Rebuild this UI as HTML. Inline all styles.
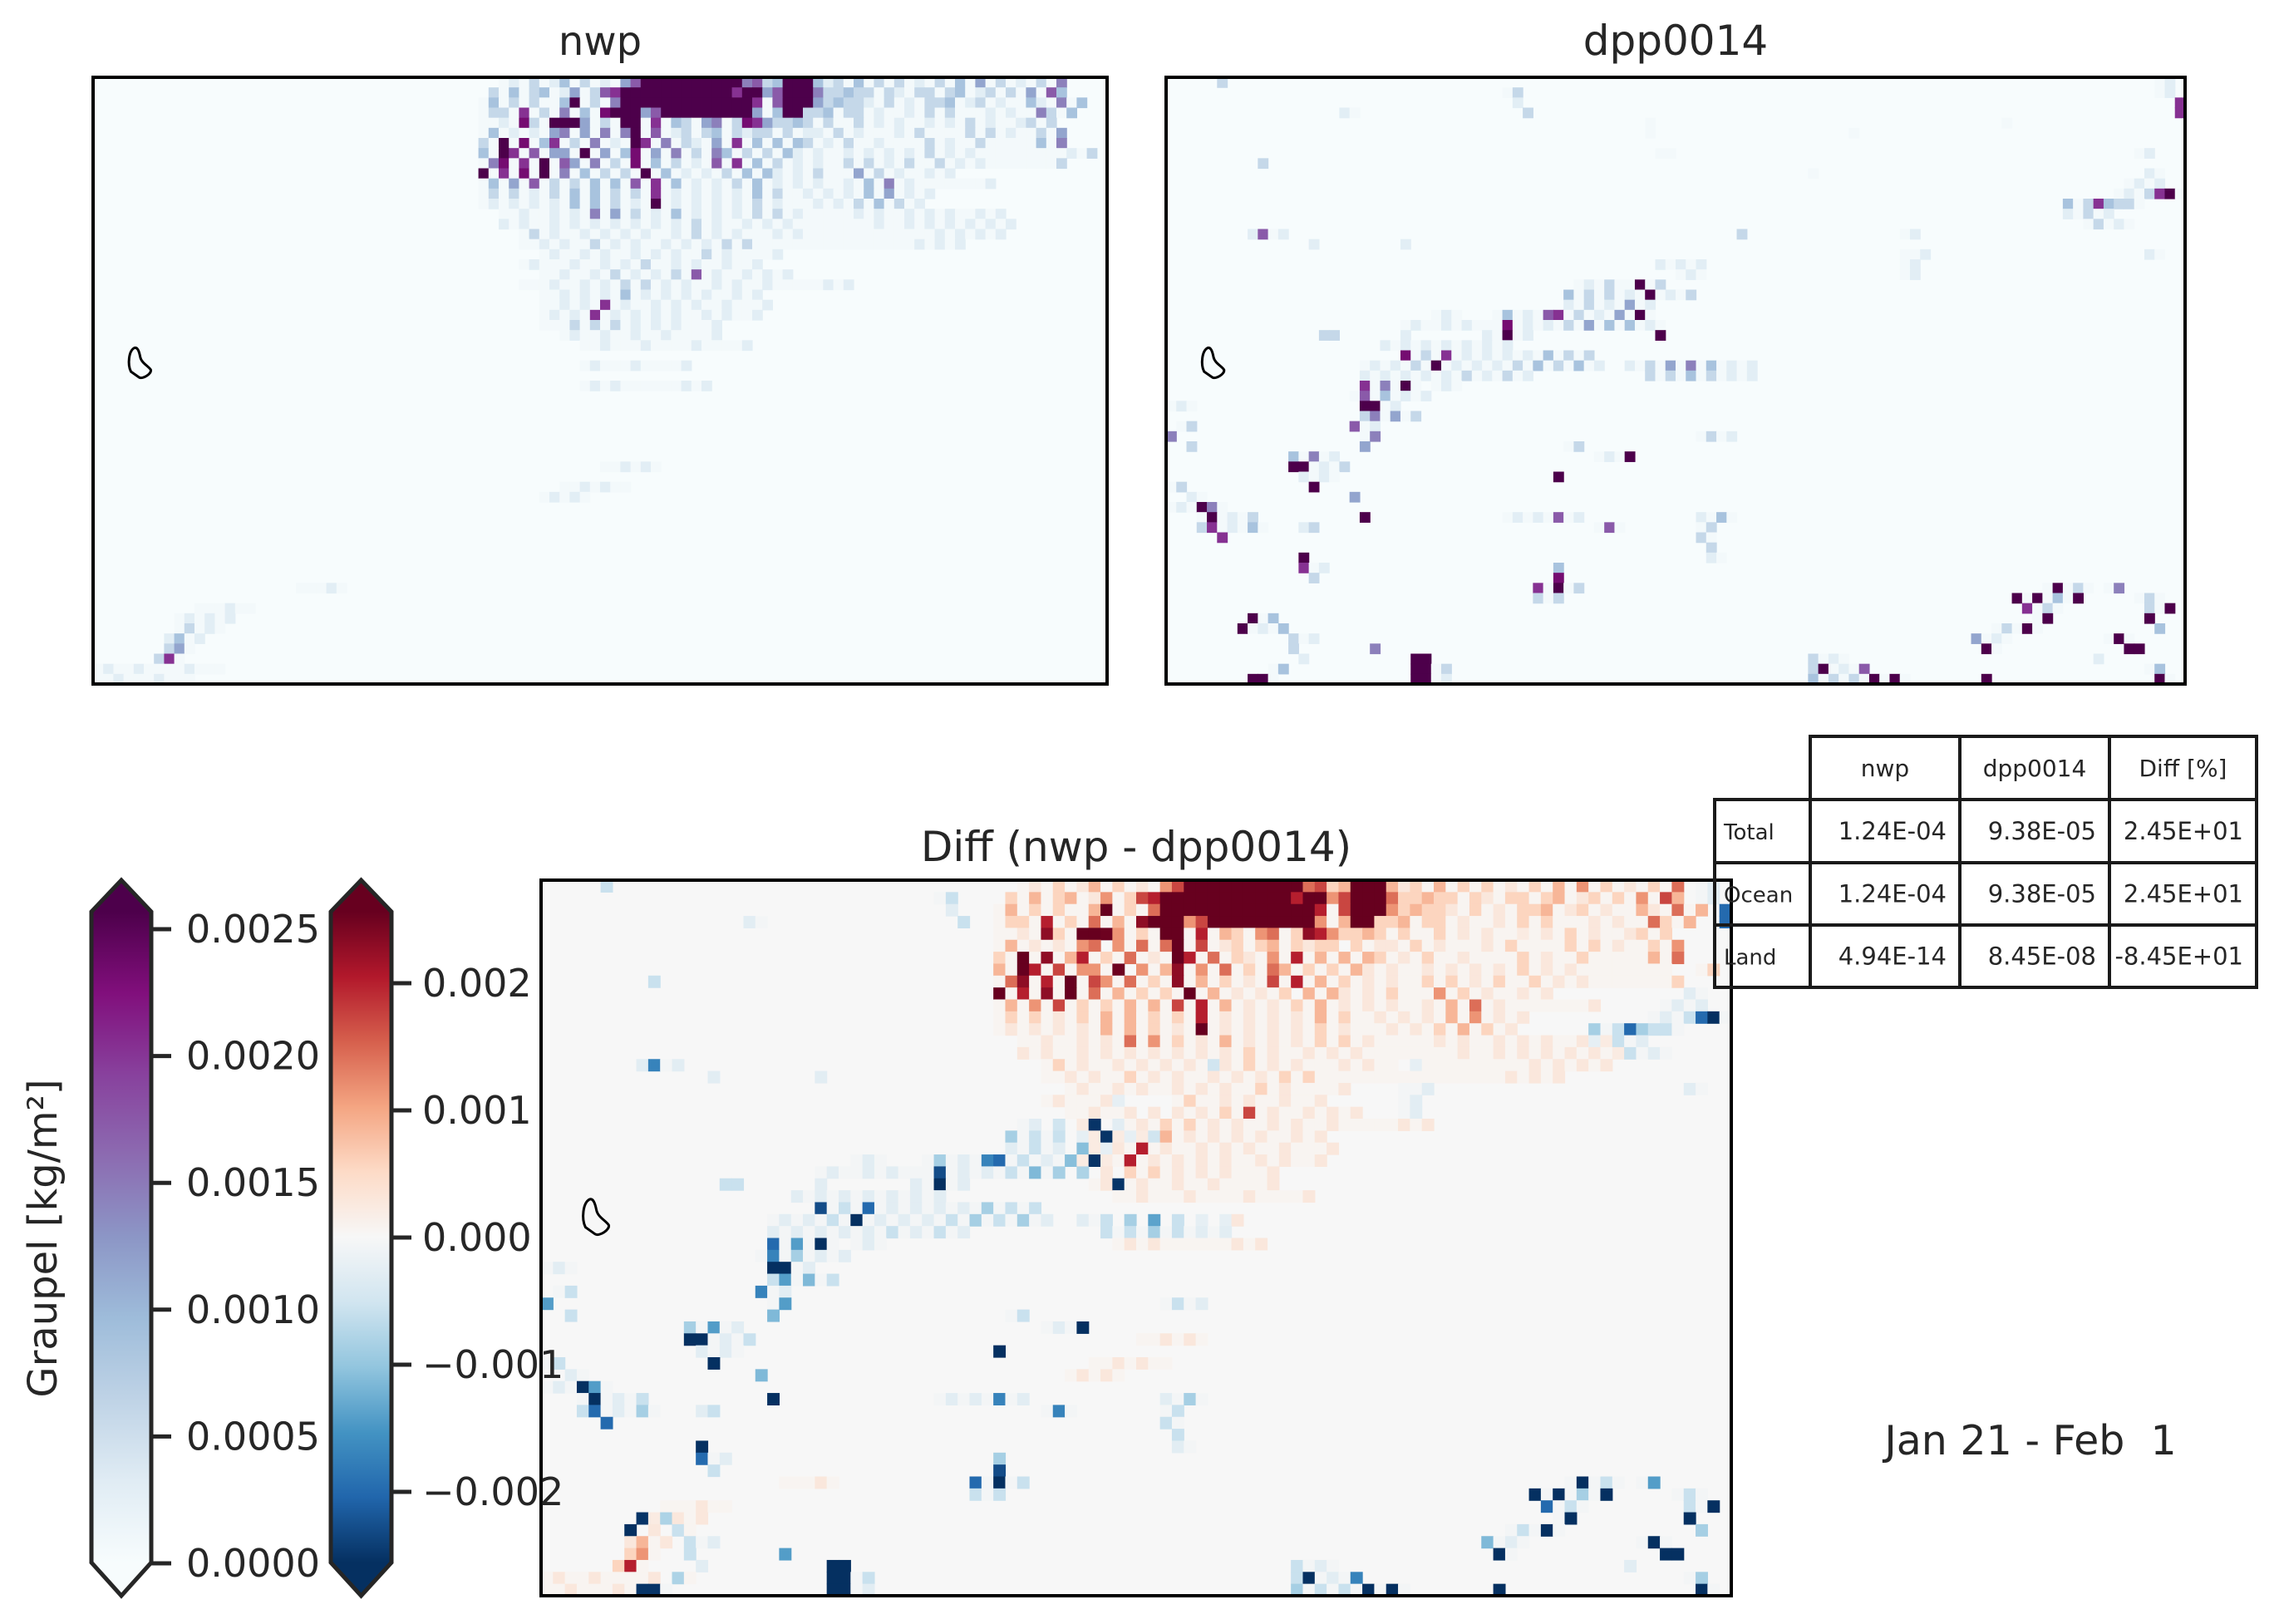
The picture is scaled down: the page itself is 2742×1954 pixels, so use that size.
<!DOCTYPE html>
<html><head><meta charset="utf-8"><style>
html,body{margin:0;padding:0;background:#fff;}
svg text{font-family:"DejaVu Sans","Liberation Sans",sans-serif;fill:#262626;}
</style></head><body>
<svg id="fig" xmlns="http://www.w3.org/2000/svg" width="2742" height="1949" viewBox="0 0 2742 1949">
<defs>
<linearGradient id="gBuPu" gradientUnits="userSpaceOnUse" x1="0" y1="1880" x2="0" y2="1097"></linearGradient>
<linearGradient id="gRdBu" gradientUnits="userSpaceOnUse" x1="0" y1="1880" x2="0" y2="1097"></linearGradient>
</defs>
<rect x="0" y="0" width="2742" height="1949" fill="#fff"/>
<g id="panels"></g>
<text x="722" y="66" font-size="48" text-anchor="middle">nwp</text>
<text x="2016" y="66" font-size="50" text-anchor="middle">dpp0014</text>
<text x="1367" y="1036" font-size="50" text-anchor="middle">Diff (nwp - dpp0014)</text>
<g id="cbars"></g>
<text x="0" y="0" font-size="48" text-anchor="middle" transform="translate(68,1490) rotate(-90)">Graupel [kg/m²]</text>
<g id="table"></g>
<text x="2443" y="1750" font-size="49" text-anchor="middle" style="white-space:pre">Jan 21 - Feb  1</text>
</svg>
<script>
// ---- data (grid cells: [row, startCol, levels]; '.'=0, 'a'=faint, digit d => d*0.00029) ----
const gridCols = 100;
const gridRows = 60;
const levelUnit = 0.00029;
const faintValue = 0.00006;
const nwpRows = [
[0,38,"..a1a2a13a2a1a4699999999995623999312a3a2a2a1a2a3a4a2a1a2a5"],
[1,38,".2a3a23a14a2679999999999979946999522322a21a22a23a12a2a4a63"],
[2,38,"a3a2a2aa39a2a599999999999997a6999423221a2a1a223a12a1aa31a5a3"],
[3,38,"a22a7a2a5a3a8999469999999994a399223a22a1aa1a2a2aaa1a1aa52a3"],
[4,38,"aa1a82a9994a2a99a7a32a45a28742232a2aa2a1a1aa1a1a2a1aa12a2"],
[5,38,"a3a1a1a45a4a5a59a6a12a23a2122a2a11a2a1aaa1a2aaaa2a2a1aa2a4"],
[6,38,"2a9a8a37a2a5a1a97a5a21a4a7a3a3a32a1a2aa1aaaa2a1aa2aaaaa3a5"],
[7,38,"3a97a6a44a9a4a38a4a5a2a53a2a2a31a1aa1a1a1a1a2a1a1aaaaaaaaa1a2"],
[8,38,"a58a7a9a64a5a2a8a3a2a1a6a7a3a2a1a1aa2a2a1a2aa2a1a1aaaaaaa2"],
[9,38,"9a7a8a9a5a3a2a2a9a3a1a1a2a3a31a1a2aaa4a2a1aa1a1"],
[10,38,"a3a4a6a2a2a3a3a6a7a3a1a1a2a3a1a1a1aa1a3a5a1aaaaaaa1"],
[11,38,"a2a2a1a2a3a3a2a2a7a1a1a1a1a3a2aa1a1a1a3a4a1a1"],
[12,38,"a1a1a1a1a3a3a2a1a9a1a1a1a1a2a1aaa1a1a2a3a2a1"],
[13,40,"aa1aa1a1a5a4a2a1a3a1a1a1a2a2a1aaaaa1a1aa1a1a1aa1a1"],
[14,40,"1a1aa1a1a1a1a1a1a1a2a1aa1a1a1aaaaaaaa1aa1a1a1a1a1a1"],
[15,42,"a2a1aa1a1a1a1aa1a2a1a1aaa1a1aaaaaaaaaaaaa1a1a1a1"],
[16,42,"aa1a1aa2a1a1aa1a1a1a2a2aaaaaaaaaaaaaaaa1a1a1"],
[17,44,"a1aa1a1aa1a1a1aa2a1aaaa1"],
[18,42,"a1aaa1aa1a1a2aa1a1aa1aa1"],
[19,44,"aa1aa1a2a1a1a2a6a1aa1a1a1"],
[20,42,"aaa1aa1a1a2a2a1a1aa1a1aa1aaaaa1a1"],
[21,44,"aa1a1a1a3a1a1a1a1aa1a1"],
[22,44,"aa1a1a7a1aa1a1a1aa1aaa1"],
[23,44,"a1a1a7a1a1a1a1aa1a1aa1"],
[24,44,"aaa2a2a2a1a1a1aaa1"],
[25,46,"a1aa1aa1aa1aaaa1"],
[26,48,"aa1aaa1aaaa1aaaa1"],
[28,48,"a1aaa1aaaa1"],
[30,48,"a1a1aaaaaa1a1"],
[38,50,"aa1a1a"],
[40,46,"aa1a1aa"],
[41,44,"a1a1a"],
[50,20,"aaa1a"],
[52,10,"aaa1aa"],
[53,8,"a1a1a1"],
[54,8,"a2a1a"],
[55,7,"13a1"],
[56,7,"24a"],
[57,6,"27a"],
[58,0,"a1aa1aaaa1aaa"],
[59,0,"aa1aaa1aaa"]
];
const dppRows = [
[0,5,"2"],[0,97,"a1"],[1,33,"a2"],[1,97,"a1"],[2,34,"1"],[2,99,"7"],
[3,17,"1a"],[3,35,"2"],[3,99,"7"],[4,47,"a"],[4,82,"a"],[5,47,"a"],[5,67,"a"],
[7,48,"aa"],[7,95,"a1"],[8,9,"2"],[9,63,"a"],[9,96,"1a"],[10,94,"a1a1"],
[11,93,"a1a279a"],[12,88,"3a27322a"],[13,88,"1a2a1"],[14,90,"a2a1a"],
[15,8,"16a1"],[15,56,"2"],[15,72,"a1"],[16,14,"1"],[16,23,"1"],
[17,72,"aa1"],[17,96,"1a"],[18,48,"1a1a1"],[18,72,"a1"],[19,50,"a1a"],[19,72,"a1"],
[20,40,"a1a2aa9a2"],[21,39,"3a2a2a1a9a1a2"],[22,39,"1a2a1a4a1"],
[23,26,"a1a"],[23,32,"a3a1a67a2a1a4a9a"],
[24,23,"a1aa1a1aaa8a1a1a2a4a3a3a1a"],
[25,15,"22"],[25,23,"1"],[25,31,"1a9a1"],[25,48,"9"],
[26,21,"1a1a1a1a1a1a1"],[27,23,"8a2a7a1a1a1a1a3a2a2"],
[28,19,"a1a1a2a9a1a1a1a2a3a2a3a1"],[28,45,"1a2a4a5a3a1a1"],
[29,19,"1a1a1a1a1a2a1a2a1"],[29,47,"2a2a3a2a1a1"],
[30,19,"7a5a9a"],[30,26,"a1a"],[31,18,"a6a3a1a1"],[32,0,"a1a"],[32,19,"99a1"],
[33,19,"25a4a2"],[34,1,"a2"],[34,18,"6a1"],[35,0,"5"],[35,19,"a5"],[35,52,"a2a1"],
[36,2,"2"],[36,19,"4"],[36,39,"a2"],[37,12,"3a5a1"],[37,42,"a1a9"],
[38,12,"99a1a2"],[39,13,"1a1a"],[39,38,"9"],[40,0,"a2"],[40,14,"9"],[41,2,"1a"],[41,18,"4"],
[42,0,"a1a"],[42,3,"95a"],[43,3,"a9a1a2"],[43,19,"9"],[43,33,"a1a1a6a1"],[43,52,"1a3a"],
[44,3,"27a1a3a"],[44,13,"12"],[44,42,"a6a"],[44,52,"a2"],[45,5,"7"],[45,52,"2a"],
[46,53,"2"],[47,13,"9"],[47,53,"1a"],[48,13,"7a1"],[48,38,"3"],[49,14,"2"],[49,38,"8"],
[50,36,"7a9a2"],[50,86,"a9a2a"],[50,92,"a5"],[51,36,"2a2"],[51,83,"9a9a3a9"],[51,95,"a2a"],
[52,84,"7a2a"],[52,96,"2a9"],[53,8,"9a3"],[53,85,"a9"],[53,96,"9"],
[54,7,"9a1a3"],[54,81,"a2a9a"],[54,97,"3"],[55,12,"2a1"],[55,79,"4a1a"],[55,92,"a9a"],
[56,12,"2"],[56,20,"5"],[56,80,"9a"],[56,94,"99"],
[57,13,"1"],[57,24,"99"],[57,63,"2a1a"],[57,91,"1"],
[58,10,"a3"],[58,24,"99a2"],[58,63,"29a1a6"],[58,96,"a3"],
[59,8,"99a"],[59,24,"99a1"],[59,63,"3a2a2a9a9a"],[59,80,"9"],[59,97,"9a"]
];
const tableHeaders = ["nwp","dpp0014","Diff [%]"];
const tableRowLabels = ["Total","Ocean","Land"];
const tableValues = [
["1.24E-04","9.38E-05","2.45E+01"],
["1.24E-04","9.38E-05","2.45E+01"],
["4.94E-14","8.45E-08","-8.45E+01"]
];
const cb1Ticks = [0,0.0005,0.001,0.0015,0.002,0.0025];
const cb1Labels = ["0.0000","0.0005","0.0010","0.0015","0.0020","0.0025"];
const cb2Ticks = [-0.002,-0.001,0,0.001,0.002];
const cb2Labels = ["\u22120.002","\u22120.001","0.000","0.001","0.002"];

// ---- colormaps ----
const BUPU = ["#f7fcfd","#e0ecf4","#bfd3e6","#9ebcda","#8c96c6","#8c6bb1","#88419d","#810f7c","#4d004b"];
const RDBU = ["#053061","#2166ac","#4393c3","#92c5de","#d1e5f0","#f7f7f7","#fddbc7","#f4a582","#d6604d","#b2182b","#67001f"];
function hex2rgb(h){return [parseInt(h.slice(1,3),16),parseInt(h.slice(3,5),16),parseInt(h.slice(5,7),16)];}
function cmap(stops,t){
  t=Math.max(0,Math.min(1,t));
  const n=stops.length-1, f=t*n, i=Math.min(n-1,Math.floor(f)), u=f-i;
  const a=hex2rgb(stops[i]), b=hex2rgb(stops[i+1]);
  return "rgb("+a.map((v,k)=>Math.round(v+(b[k]-v)*u)).join(",")+")";
}
const seqMax = 0.00257, divMax = 0.00259;
function lvl(ch){ if(ch==='.') return 0; if(ch==='a') return faintValue; return parseInt(ch,10)*levelUnit; }
function buildGrid(spec){
  const g=[]; for(let r=0;r<gridRows;r++){g.push(new Array(gridCols).fill(0));}
  spec.forEach(([r,c0,s])=>{ for(let i=0;i<s.length;i++){const c=c0+i; if(c<gridCols&&r<gridRows) g[r][c]=lvl(s[i]);} });
  return g;
}
const nwpGrid = buildGrid(nwpRows);
const dppGrid = buildGrid(dppRows);

const NS="http://www.w3.org/2000/svg";
function el(tag,attrs,parent){const e=document.createElementNS(NS,tag);for(const k in attrs)e.setAttribute(k,attrs[k]);parent.appendChild(e);return e;}
const panels=document.getElementById('panels');

function drawPanel(name,x,y,w,h,valFn,colorFn,bg){
  const g=el('g',{},panels);
  
  
  const b=el('rect',{x:x,y:y,width:w,height:h,fill:bg},g);
  
  
  const cw=w/gridCols, ch=h/gridRows;
  const xs=c=>x+c*cw, ys=r=>y+r*ch;
  for(let r=0;r<gridRows;r++)for(let c=0;c<gridCols;c++){
    const v=valFn(r,c); if(v===0) continue;
    const cell=el('rect',{x:xs(c).toFixed(2),y:ys(r).toFixed(2),width:(cw+0.6).toFixed(2),height:(ch+0.6).toFixed(2),fill:colorFn(v)},g);
    
    
  }
  const ox=x+w*0.035, oy=y+h*0.446, sw=w*0.023, sh=h*0.05;
  const P=(u,v)=>(ox+u*sw).toFixed(1)+","+(oy+v*sh).toFixed(1);
  const coast=el('path',{d:"M"+P(0.25,0)+" C"+P(0.0,0.1)+" "+P(-0.05,0.55)+" "+P(0.1,0.78)+" L"+P(0.45,0.97)+" C"+P(0.6,1.05)+" "+P(1.0,0.85)+" "+P(0.95,0.72)+" C"+P(0.85,0.6)+" "+P(0.55,0.5)+" "+P(0.5,0.3)+" C"+P(0.45,0.1)+" "+P(0.38,-0.03)+" "+P(0.25,0)+" Z",fill:"none",stroke:"#000","stroke-width":3},g);
  
  
  const fr=el('rect',{x:x,y:y,width:w,height:h,fill:"none",stroke:"#000","stroke-width":4},g);
  
  
}
const seqColor=v=>cmap(BUPU,v/seqMax);
const divColor=v=>cmap(RDBU,(v+divMax)/(2*divMax));
drawPanel('nwp',112,93,1220,730,(r,c)=>nwpGrid[r][c],seqColor,BUPU[0]);
drawPanel('dpp0014',1403,93,1226,730,(r,c)=>dppGrid[r][c],seqColor,BUPU[0]);
drawPanel('diff',651,1059,1432,861,(r,c)=>nwpGrid[r][c]-dppGrid[r][c],divColor,"#f7f7f7");

// ---- colorbars ----
function fillGrad(id,stops){
  const gr=document.getElementById(id);
  stops.forEach((s,i)=>{el('stop',{offset:(i/(stops.length-1)).toFixed(4),'stop-color':s},gr);});
}
fillGrad('gBuPu',BUPU);
fillGrad('gRdBu',RDBU);
const cb=document.getElementById('cbars');
function drawCbar(name,x0,x1,grad,ticks,labels,yOf,labelX){
  const g=el('g',{},cb);
  
  
  const xm=(x0+x1)/2;
  const poly=el('polygon',{points:`${x0},1097 ${xm},1059 ${x1},1097 ${x1},1880 ${xm},1920 ${x0},1880`,fill:"url(#"+grad+")",stroke:"#262626","stroke-width":5,"stroke-linejoin":"miter"},g);
  
  
  ticks.forEach((t,i)=>{
    const y=yOf(t);
    const tk=el('line',{x1:x1,x2:x1+24,y1:y,y2:y,stroke:"#262626","stroke-width":5},g);
    
    
    const tx=el('text',{x:labelX,y:y+16,'font-size':46},g);
    tx.textContent=labels[i];
    
    
  });
}
drawCbar('graupel-colorbar',110,182,'gBuPu',cb1Ticks,cb1Labels,v=>1881-v/0.0025*763,224);
drawCbar('diff-colorbar',398,471,'gRdBu',cb2Ticks,cb2Labels,v=>1489-v/0.001*153,508);

// ---- table ----
const tb=document.getElementById('table');
const colX=[2063,2178,2358,2538,2715];
const rowY=[886,962,1038,1113,1188];
function tline(x1,y1,x2,y2){const l=el('line',{x1:x1,y1:y1,x2:x2,y2:y2,stroke:"#1a1a1a","stroke-width":4,"stroke-linecap":"square"},tb);
  
  }
tline(colX[1],rowY[0],colX[4],rowY[0]);
for(let i=1;i<rowY.length;i++) tline(colX[0],rowY[i],colX[4],rowY[i]);
tline(colX[0],rowY[1],colX[0],rowY[4]);
for(let j=1;j<colX.length;j++) tline(colX[j],rowY[0],colX[j],rowY[4]);
tableHeaders.forEach((h,j)=>{
  const t=el('text',{x:(colX[j+1]+colX[j+2])/2,y:(rowY[0]+rowY[1])/2+10,'font-size':28,'text-anchor':'middle'},tb);
  t.textContent=h;
  
  
});
tableRowLabels.forEach((lab,i)=>{
  const yc=(rowY[i+1]+rowY[i+2])/2+10;
  const t=el('text',{x:colX[0]+11,y:yc,'font-size':26},tb);
  t.textContent=lab;
  
  
  tableValues[i].forEach((v,j)=>{
    const c=el('text',{x:colX[j+2]-16,y:yc,'font-size':29,'text-anchor':'end'},tb);
    c.textContent=v;
    
    
  });
});
</script>
</body></html>
